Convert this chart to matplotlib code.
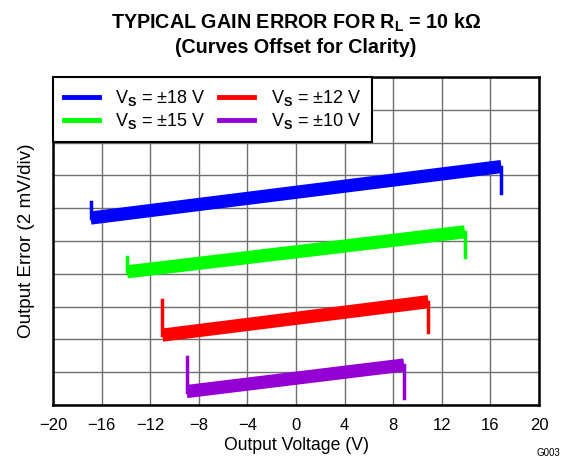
import numpy as np
import matplotlib
matplotlib.use("Agg")
import matplotlib.pyplot as plt
import matplotlib.lines as mlines

plt.rcParams['font.family'] = ['Liberation Sans', 'DejaVu Sans']
plt.rcParams['mathtext.fontset'] = 'custom'
plt.rcParams['mathtext.rm'] = 'Liberation Sans'
plt.rcParams['mathtext.bf'] = 'Liberation Sans:bold'

# Traces (y in divisions, 2 mV/div, offset for clarity)
labels = ['V$_\\mathbf{S}$ = ±18 V', 'V$_\\mathbf{S}$ = ±15 V',
          'V$_\\mathbf{S}$ = ±12 V', 'V$_\\mathbf{S}$ = ±10 V']
colors = ['#0000ff', '#00ff00', '#ff0000', '#9400d3']
x_start = [-16.9, -13.9, -11.0, -9.0]
x_end = [16.9, 13.9, 10.9, 8.9]
y_start = [5.70, 4.06, 2.13, 0.41]
y_end = [7.27, 5.28, 3.15, 1.22]
spike_top = [6.20, 4.52, 3.20, 1.47]     # start of sweep, jumps up
spike_bot = [6.47, 4.50, 2.24, 0.20]     # end of sweep, drops down

fig = plt.figure(figsize=(5.7, 4.61), dpi=100)
ax = fig.add_axes([53 / 570, 1 - 405 / 461, 486 / 570, 328 / 461])

for i in range(4):
    ax.plot([x_start[i], x_end[i]], [y_start[i], y_end[i]],
            color=colors[i], lw=9.5, solid_capstyle='butt', zorder=3)
    ax.plot([x_start[i], x_start[i]], [y_start[i], spike_top[i]],
            color=colors[i], lw=2.5, zorder=3)
    ax.plot([x_end[i], x_end[i]], [y_end[i], spike_bot[i]],
            color=colors[i], lw=2.5, zorder=3)

ax.set_xlim(-20, 20)
ax.set_ylim(0, 10)
ax.set_xticks(np.arange(-20, 21, 4))
ax.set_xticklabels([str(v).replace('-', '\u2212') for v in range(-20, 21, 4)])
ax.set_yticks(np.arange(0, 11, 1))
ax.set_yticklabels([])
ax.tick_params(axis='both', length=0, labelsize=12, pad=9)
ax.grid(True, color='#707070', lw=1)
for s in ax.spines.values():
    s.set_linewidth(1.8)

ax.set_xlabel('Output Voltage (V)', fontsize=12.7, labelpad=3)
ax.set_ylabel('Output Error (2 mV/div)', fontsize=13.6, labelpad=4)
fig.suptitle('TYPICAL GAIN ERROR FOR R$_\\mathbf{L}$ = 10 k\u03a9\n(Curves Offset for Clarity)',
             x=296 / 570, y=0.975, fontsize=14.2, fontweight='bold', linespacing=1.25)

proxies = [mlines.Line2D([], [], color=c, lw=3.5) for c in colors]
leg = ax.legend(proxies, labels,
                ncol=2, loc='upper left', bbox_to_anchor=(0, 1),
                borderaxespad=0, fontsize=13, handlelength=1.95,
                columnspacing=0.75, frameon=True, fancybox=False,
                edgecolor='black', framealpha=1, borderpad=0.6,
                labelspacing=0.2, handletextpad=0.9)
leg.get_frame().set_linewidth(1.5)
leg.set_zorder(5)

fig.text(548 / 570, 1 - 453 / 461, 'G003', fontsize=7, ha='center', va='center')

fig.savefig('out.png', dpi=100)
